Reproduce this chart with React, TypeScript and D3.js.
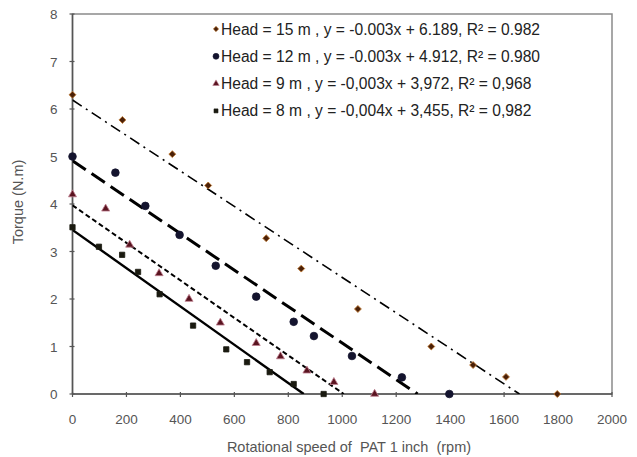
import React from 'react';
import * as d3 from 'd3';

// rpm / torque readings per head
const head15X = [0, 185, 370, 503, 718, 848, 1058, 1330, 1485, 1607, 1797];
const head15Y = [6.3, 5.77, 5.05, 4.39, 3.28, 2.64, 1.79, 1.0, 0.61, 0.36, 0];
const head12X = [0, 159, 270, 397, 531, 681, 820, 895, 1036, 1221, 1397];
const head12Y = [5.0, 4.66, 3.96, 3.35, 2.7, 2.05, 1.52, 1.22, 0.8, 0.35, 0];
const head9X = [0, 123, 212, 321, 432, 548, 681, 771, 869, 969, 1120];
const head9Y = [4.2, 3.9, 3.14, 2.54, 2.0, 1.5, 1.07, 0.79, 0.49, 0.25, 0];
const head8X = [0, 98, 184, 243, 323, 447, 570, 647, 731, 820, 931];
const head8Y = [3.51, 3.1, 2.93, 2.57, 2.1, 1.44, 0.94, 0.67, 0.46, 0.21, 0];

// trend lines as drawn (intercept, slope)
const trendIntercepts = [6.189, 4.912, 3.972, 3.455];
const trendSlopes = [-0.003735, -0.00384, -0.00395, -0.00403];

const legendLabels = [
  'Head = 15 m , y = -0.003x + 6.189, R² = 0.982',
  'Head = 12 m , y = -0.003x + 4.912, R² = 0.980',
  'Head = 9 m , y = -0,003x + 3,972, R² = 0,968',
  'Head = 8 m , y = -0,004x + 3,455, R² = 0,982',
];
const xTicks = [0, 200, 400, 600, 800, 1000, 1200, 1400, 1600, 1800, 2000];
const yTicks = [0, 1, 2, 3, 4, 5, 6, 7, 8];

// diamond = square turned 45deg
const series = [
  { xs: head15X, ys: head15Y, symbol: d3.symbolSquare, rot: 45, size: 24, legendSize: 14, fill: '#4a2008', stroke: '#c07830', dash: '11,5,2,5', width: 1.6 },
  { xs: head12X, ys: head12Y, symbol: d3.symbolCircle, rot: 0, size: 46, legendSize: 28, fill: '#14142e', stroke: '#14142e', dash: '16,7', width: 3 },
  { xs: head9X, ys: head9Y, symbol: d3.symbolTriangle, rot: 0, size: 28, legendSize: 18, fill: '#5a1420', stroke: '#c08090', dash: '5,3', width: 2 },
  { xs: head8X, ys: head8Y, symbol: d3.symbolSquare, rot: 0, size: 28, legendSize: 16, fill: '#1a1a10', stroke: '#1a1a10', dash: null, width: 2.4 },
];

const W = 637;
const H = 457;
const margin = { left: 72.5, right: 25, top: 14, bottom: 63 };

export default function App() {
  const x = d3.scaleLinear().domain([0, 2000]).range([margin.left, W - margin.right]);
  const y = d3.scaleLinear().domain([0, 8]).range([H - margin.bottom, margin.top]);
  const font = '"Liberation Sans", Arial, sans-serif';

  return (
    <svg width={W} height={H} style={{ position: 'absolute', left: 0, top: 0, background: '#fff' }}>
      <defs>
        <clipPath id="plot">
          <rect x={x(0)} y={y(8)} width={x(2000) - x(0)} height={y(0) - y(8)} />
        </clipPath>
      </defs>
      {/* frame */}
      <rect x={x(0)} y={y(8)} width={x(2000) - x(0)} height={y(0) - y(8)} fill="none" stroke="#8a8a8a" strokeWidth="1.5" />
      <line x1={x(0)} x2={x(0)} y1={y(0)} y2={y(8)} stroke="#555" strokeWidth="1.5" />
      <line x1={x(0)} x2={x(2000)} y1={y(0)} y2={y(0)} stroke="#555" strokeWidth="1.5" />
      {xTicks.map(t => (
        <g key={'x' + t}>
          <line x1={x(t)} x2={x(t)} y1={y(0) - 2} y2={y(0) + 3} stroke="#555" strokeWidth="1.2" />
          <text x={x(t)} y={y(0) + 30} textAnchor="middle" fontFamily={font} fontSize="13.5" fill="#555">{t}</text>
        </g>
      ))}
      {yTicks.map(t => (
        <g key={'y' + t}>
          <line x1={x(0) - 3} x2={x(0) + 2} y1={y(t)} y2={y(t)} stroke="#555" strokeWidth="1.2" />
          <text x={x(0) - 15} y={y(t) + 5} textAnchor="end" fontFamily={font} fontSize="13.5" fill="#555">{t}</text>
        </g>
      ))}
      <text x={349} y={452} textAnchor="middle" fontFamily={font} fontSize="14.5" fill="#555" style={{ whiteSpace: 'pre' }}>Rotational speed of  PAT 1 inch  (rpm)</text>
      <text transform={`translate(23,202) rotate(-90)`} textAnchor="middle" fontFamily={font} fontSize="14.5" fill="#555">Torque (N.m)</text>

      {/* trend lines */}
      <g clipPath="url(#plot)">
        {series.map((s, i) => {
          const b = trendIntercepts[i];
          const m = trendSlopes[i];
          const xEnd = -b / m;
          const line = d3.line<number>().x(v => x(v)).y(v => y(b + m * v));
          return (
            <path key={'t' + i} d={line([0, xEnd]) || ''} fill="none" stroke="#000" strokeWidth={s.width}
              strokeDasharray={s.dash || undefined} />
          );
        })}
      </g>

      {/* points */}
      {series.map((s, i) => {
        const sym = d3.symbol().type(s.symbol).size(s.size)();
        return (
          <g key={'p' + i}>
            {s.xs.map((v, j) => (
              <path key={j} d={sym || ''} transform={`translate(${x(v)},${y(s.ys[j])}) rotate(${s.rot})`} fill={s.fill} stroke={s.stroke} strokeWidth="0.8" />
            ))}
          </g>
        );
      })}

      {/* legend */}
      {legendLabels.map((lab, i) => {
        const s = series[i];
        const cy = 29 + i * 27.3;
        const sym = d3.symbol().type(s.symbol).size(s.legendSize)();
        return (
          <g key={'l' + i}>
            <path d={sym || ''} transform={`translate(216,${cy}) rotate(${s.rot})`} fill={s.fill} stroke={s.stroke} strokeWidth="0.6" />
            <text x={221} y={cy + 5.5} fontFamily={font} fontSize="15.6" fill="#222">{lab}</text>
          </g>
        );
      })}
    </svg>
  );
}
